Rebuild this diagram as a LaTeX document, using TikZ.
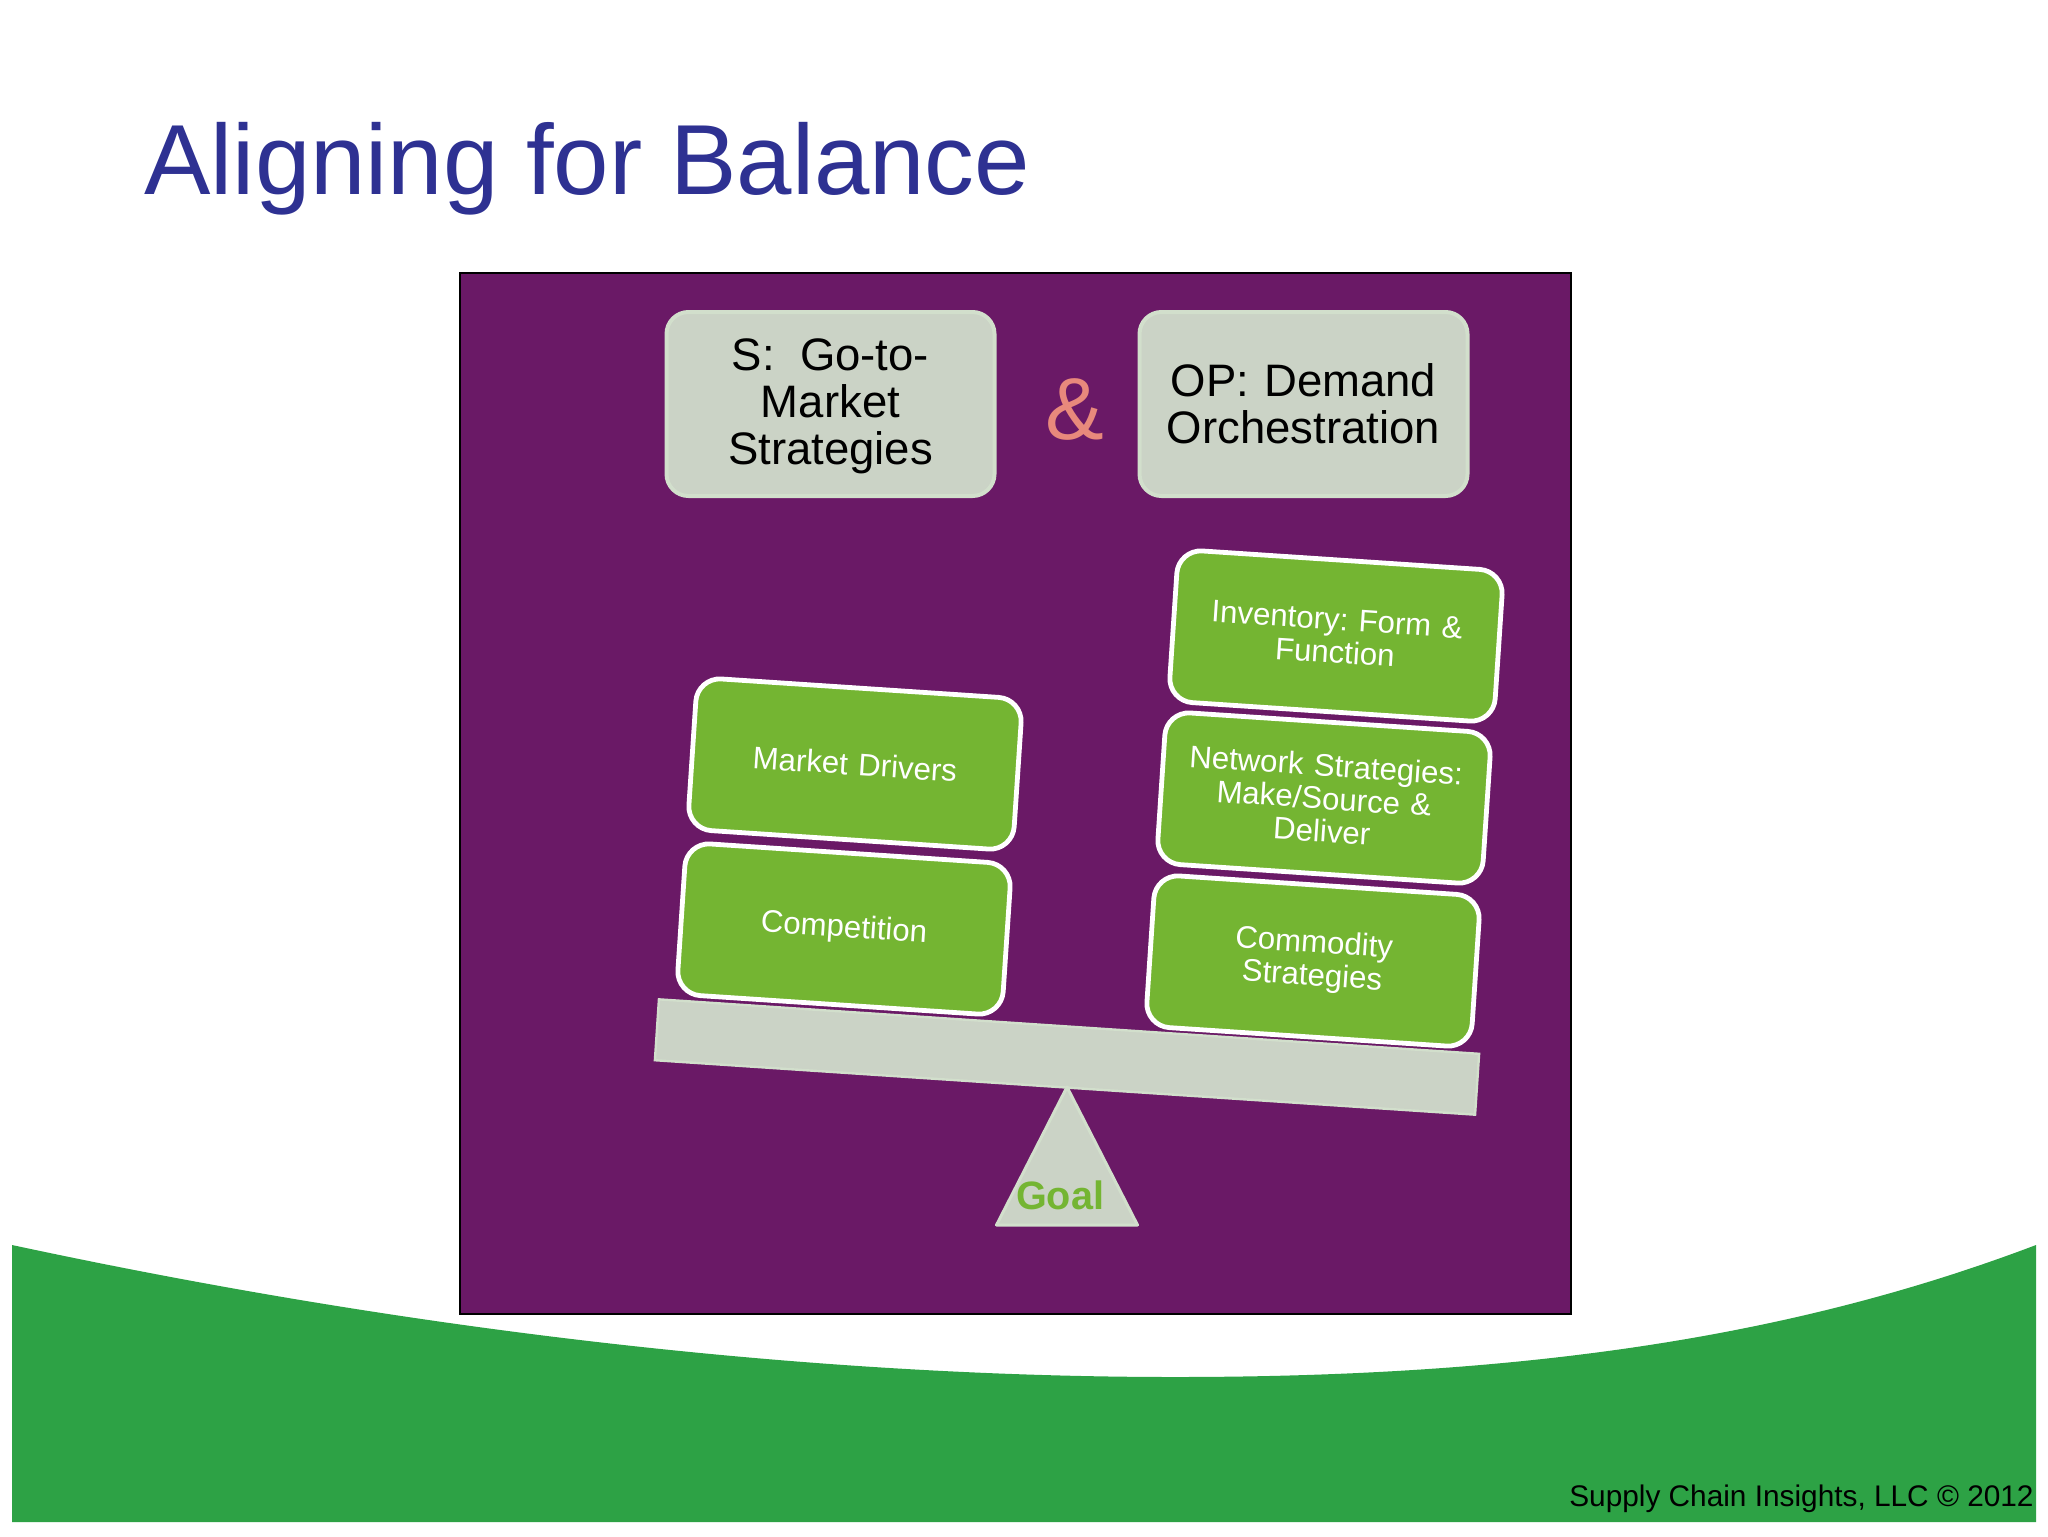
\documentclass[tikz,border=0pt]{standalone}
\usepackage{fontspec}
\setmainfont{Liberation Sans}
\definecolor{purp}{HTML}{6A1966}
\definecolor{leaf}{HTML}{74B532}
\definecolor{wave}{HTML}{2DA245}
\definecolor{pale}{HTML}{CBD3C6}
\definecolor{paleedge}{HTML}{D2DFCC}
\definecolor{ttl}{HTML}{2E3192}
\definecolor{amp}{HTML}{E8897C}
\tikzset{
  greybox/.style={draw=paleedge,fill=pale,line width=2pt,rounded corners=11pt,minimum width=164pt,minimum height=92pt,align=center,inner sep=0pt,text width=150pt,font=\fontsize{22.75}{23.5}\selectfont,text=black},
  block/.style={draw=white,fill=leaf,line width=2.4pt,rounded corners=12pt,minimum width=163pt,minimum height=76pt,align=center,inner sep=0pt,text width=146pt,font=\fontsize{15.6}{16.5}\selectfont,text=white,rotate=-3.8},
}
\begin{document}
\frenchspacing
\begin{tikzpicture}[x=0.5pt,y=-0.5pt]
\useasboundingbox (0,0) rectangle (2048,1536);
\fill[white] (0,0) rectangle (2048,1536);
% wave
\fill[wave] (12,1245) .. controls (497,1349) and (895,1377) .. (1175,1377)
  .. controls (1522,1377) and (1791,1338) .. (2036,1245) -- (2036,1522) -- (12,1522) -- cycle;
% panel
\draw[black,line width=1.4pt,fill=purp] (460,273) rectangle (1571,1314);
% title
\node[anchor=base west,inner sep=0pt,text=ttl,font=\fontsize{49.8}{54}\selectfont] (title) at (144,194) {Aligning for Balance};
% top boxes
\node[greybox] (s) at (830.5,404) {\rule{0pt}{18.5pt}S:\hspace{12.6pt}Go-to-\\Market\\Strategies};
\node[greybox] (op) at (1303.5,404) {OP: Demand\\Orchestration};
\node[inner sep=0pt,text=amp,font=\fontsize{44}{50}\selectfont] (and) at (1075,409) {\&};
% beam and pivot
\node[draw=paleedge,fill=pale,line width=1.2pt,minimum width=411pt,minimum height=30.5pt,inner sep=0pt,rotate=-3.8] (beam) at (1067,1057) {};
\draw[paleedge,fill=pale,line width=1.5pt,line join=round] (1067,1087) -- (1137.5,1225) -- (996.5,1225) -- cycle;
\node[inner sep=0pt,text=leaf,font=\fontsize{19.8}{22}\selectfont\bfseries] (goal) at (1060,1195) {Goal};
% stacked blocks
\node[block] (market) at (855,764) {Market Drivers};
\node[block] (comp) at (844,929) {Competition};
\node[block] (inv) at (1336,636) {Inventory: Form \&\\Function};
\node[block] (net) at (1324,798) {Network Strategies:\\Make/Source \&\\Deliver};
\node[block] (comm) at (1313,961) {Commodity\\Strategies};
% footer
\node[anchor=base east,inner sep=0pt,text=black,font=\fontsize{14.9}{16}\selectfont] (foot) at (2034,1506) {Supply Chain Insights, LLC © 2012};
\end{tikzpicture}
\end{document}
